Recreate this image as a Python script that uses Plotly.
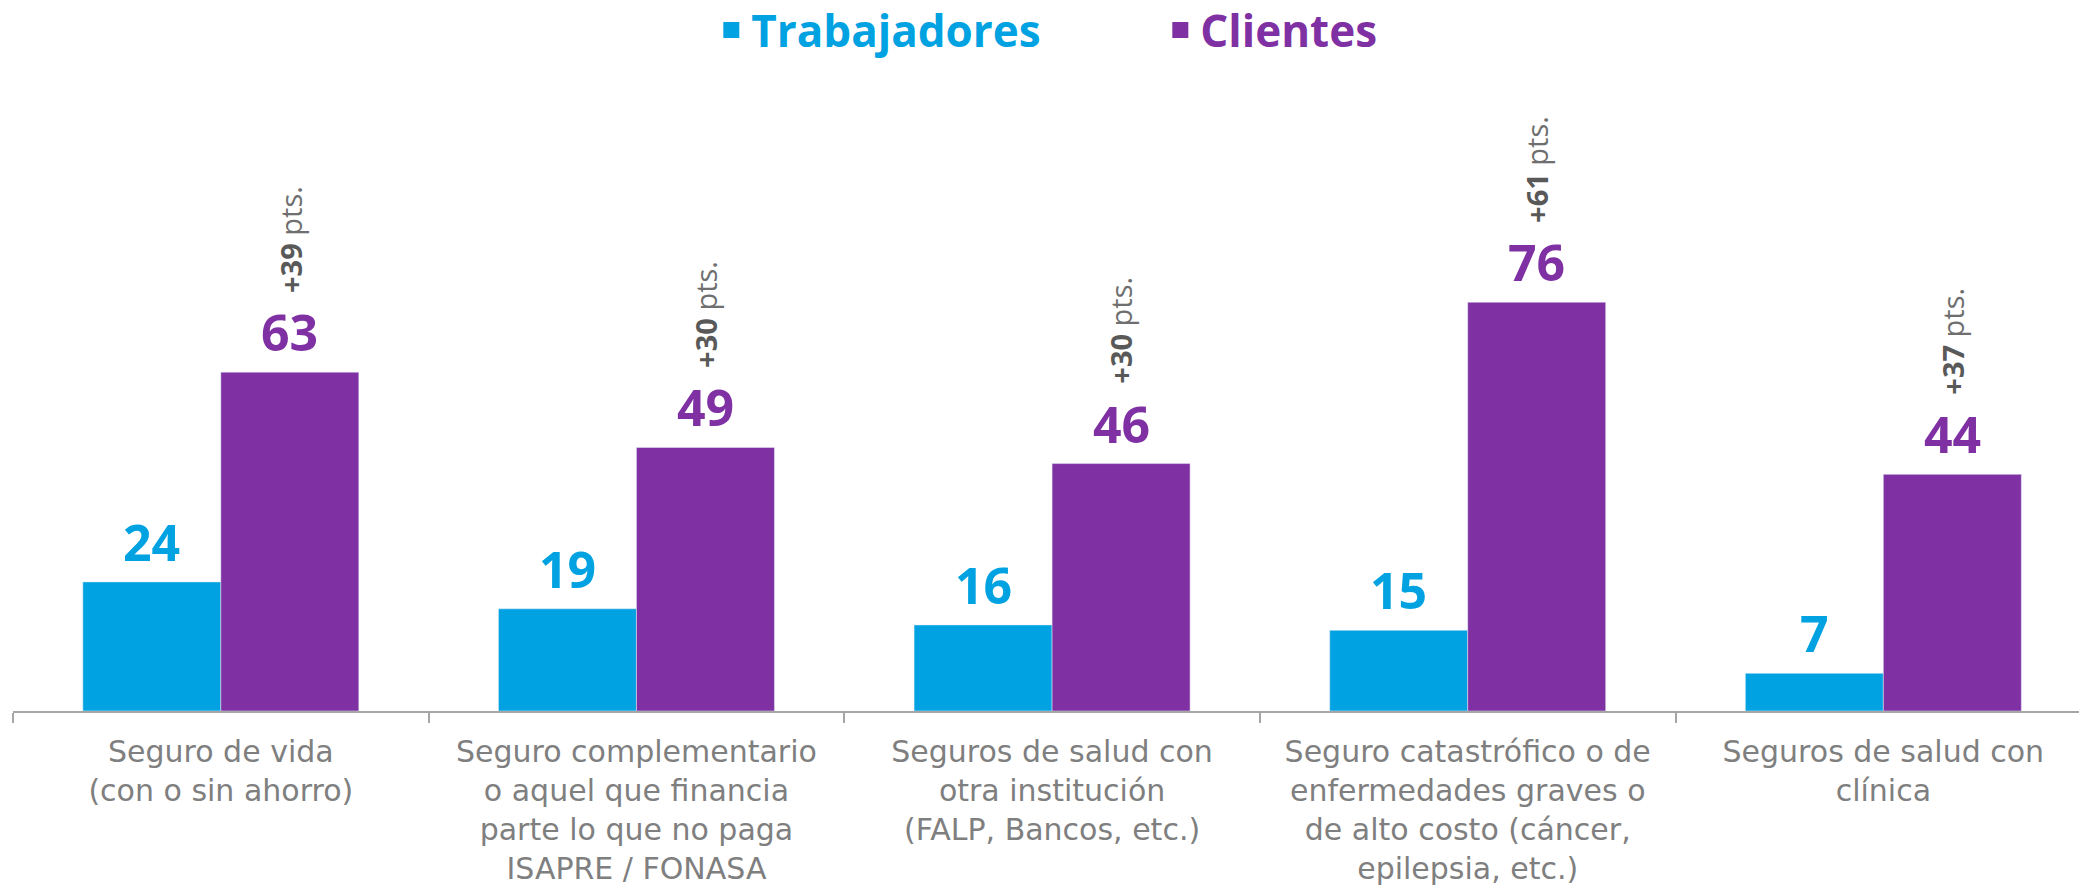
import plotly.graph_objects as go

categories = [
    "Seguro de vida<br>(con o sin ahorro)",
    "Seguro complementario<br>o aquel que financia<br>parte lo que no paga<br>ISAPRE / FONASA",
    "Seguros de salud con<br>otra institución<br>(FALP, Bancos, etc.)",
    "Seguro catastrófico o de<br>enfermedades graves o<br>de alto costo (cáncer,<br>epilepsia, etc.)",
    "Seguros de salud con<br>clínica",
]
trabajadores = [24, 19, 16, 15, 7]
clientes = [63, 49, 46, 76, 44]
diff_pts = [39, 30, 30, 61, 37]

BLUE = "#00A2E1"
PURPLE = "#7F30A3"
FONT = "Open Sans"
LABEL_FONT = "DejaVu Sans"

fig = go.Figure()
fig.add_trace(go.Bar(x=categories, y=trabajadores, marker_color=BLUE,
                     name="Trabajadores", showlegend=False))
fig.add_trace(go.Bar(x=categories, y=clientes, marker_color=PURPLE,
                     name="Clientes", showlegend=False))
# legend-only traces (square symbols)
fig.add_trace(go.Scatter(x=[None], y=[None], mode="markers",
                         name=f"<b><span style='color:{BLUE}'>Trabajadores</span></b>",
                         marker=dict(symbol="square", size=20, color=BLUE)))
fig.add_trace(go.Scatter(x=[None], y=[None], mode="markers",
                         name=f"<b><span style='color:{PURPLE}'>Clientes</span></b>",
                         marker=dict(symbol="square", size=20, color=PURPLE)))

annotations = []
for c, t, k, d in zip(categories, trabajadores, clientes, diff_pts):
    annotations.append(dict(x=c, y=t, xref="x", yref="y", text=f"<b>{t}</b>",
                            showarrow=False, xshift=-69, yshift=40, yanchor="middle",
                            font=dict(family=FONT, size=50, color=BLUE)))
    annotations.append(dict(x=c, y=k, xref="x", yref="y", text=f"<b>{k}</b>",
                            showarrow=False, xshift=69, yshift=40, yanchor="middle",
                            font=dict(family=FONT, size=50, color=PURPLE)))
    annotations.append(dict(x=c, y=k, xref="x", yref="y",
                            text=f"<b><span style='color:#595959'>+{d}</span></b> pts.",
                            showarrow=False, xshift=69, yshift=133, yanchor="middle",
                            textangle=-90,
                            font=dict(family=FONT, size=29, color="#6f6f6f")))

fig.update_layout(
    width=2079, height=880,
    margin=dict(l=5, r=0, t=92, b=177),
    paper_bgcolor="white", plot_bgcolor="white",
    barmode="group", bargap=0.336, bargroupgap=0,
    annotations=annotations,
    legend=dict(orientation="h", x=0.3367, xanchor="left", y=0.9745, yref="container",
                yanchor="middle", font=dict(family=FONT, size=44),
                entrywidth=404, itemclick=False),
    font=dict(family=FONT),
)
fig.update_xaxes(showline=True, linecolor="#a6a6a6", linewidth=1.5,
                 ticks="outside", tickson="boundaries", ticklen=10, tickcolor="#a6a6a6",
                 tickwidth=1.5, range=[-0.5, 4.49], automargin=False,
                 ticklabelstandoff=13,
                 tickfont=dict(family=LABEL_FONT, size=30, color="#7f7f7f"))
fig.update_yaxes(visible=False, range=[0, 113.6], automargin=False)

fig.write_html("out.html")
